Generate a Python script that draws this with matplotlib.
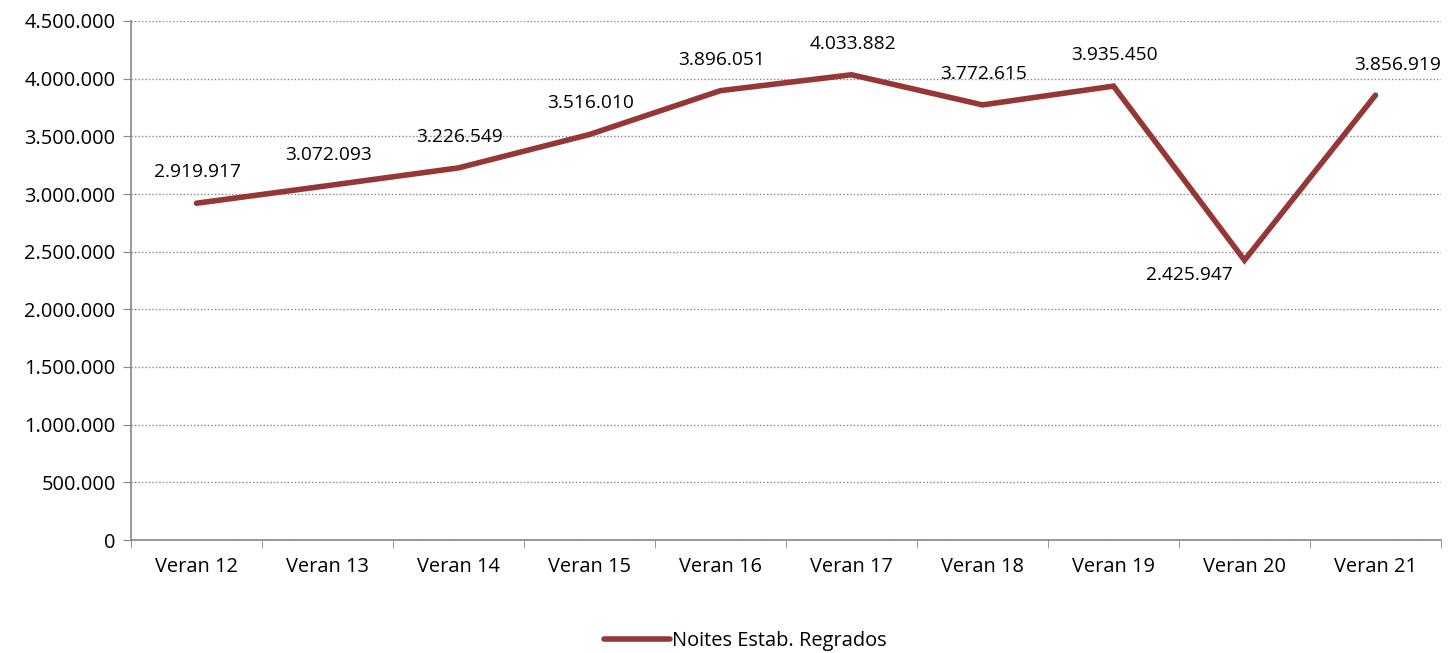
import matplotlib.pyplot as plt
from matplotlib.ticker import FuncFormatter

categories = ['Veran 12', 'Veran 13', 'Veran 14', 'Veran 15', 'Veran 16',
              'Veran 17', 'Veran 18', 'Veran 19', 'Veran 20', 'Veran 21']
noites = [2919917, 3072093, 3226549, 3516010, 3896051,
          4033882, 3772615, 3935450, 2425947, 3856919]
series_name = 'Noites Estab. Regrados'

LINE_COLOR = '#953735'
AXIS_COLOR = '#868686'

plt.rcParams['font.family'] = ['Open Sans', 'DejaVu Sans']
plt.rcParams['font.size'] = 14.4


def fmt_pt(v):
    return f'{int(round(v)):,}'.replace(',', '.')


fig = plt.figure(figsize=(14.52, 6.53), dpi=100)
ax = fig.add_axes([131 / 1452, 1 - 540 / 653, 1310 / 1452, 519 / 653])

x = list(range(len(categories)))
line, = ax.plot(x, noites, color=LINE_COLOR, lw=4, solid_capstyle='round',
                solid_joinstyle='miter', label=series_name, zorder=3)

# data labels: pixel offsets from each point
offsets = [(1, 31)] * 8 + [(-55, -15), (22, 30)]
for xi, v, (dx, dy) in zip(x, noites, offsets):
    ax.annotate(fmt_pt(v), (xi, v), xytext=(dx * 0.72, dy * 0.72),
                textcoords='offset points', ha='center', va='center',
                fontsize=13.8, color='black')

ax.set_xlim(-0.5, len(categories) - 0.5)
ax.set_ylim(0, 4500000)
ax.set_yticks(range(0, 4500001, 500000))
ax.yaxis.set_major_formatter(FuncFormatter(lambda v, p: fmt_pt(v)))
ax.set_xticks(x)
ax.set_xticklabels(categories)
ax.set_xticks([i - 0.5 for i in range(len(categories) + 1)], minor=True)
ax.tick_params(axis='x', which='major', length=0, pad=12)
ax.tick_params(axis='x', which='minor', length=6, color=AXIS_COLOR, direction='out')
ax.tick_params(axis='y', length=6, color=AXIS_COLOR, direction='out', pad=5)

ax.grid(axis='y', color=AXIS_COLOR, linestyle=(0, (1, 1.5)), lw=1)
ax.set_axisbelow(True)
for s in ['top', 'right']:
    ax.spines[s].set_visible(False)
for s in ['left', 'bottom']:
    ax.spines[s].set_color(AXIS_COLOR)
    ax.spines[s].set_linewidth(1.2)

fig.legend(handles=[line], loc='lower center', bbox_to_anchor=(0.513, -0.025),
           frameon=False, fontsize=14.4, handlelength=3.3, handletextpad=0.1)

fig.savefig('out.png', dpi=100)
